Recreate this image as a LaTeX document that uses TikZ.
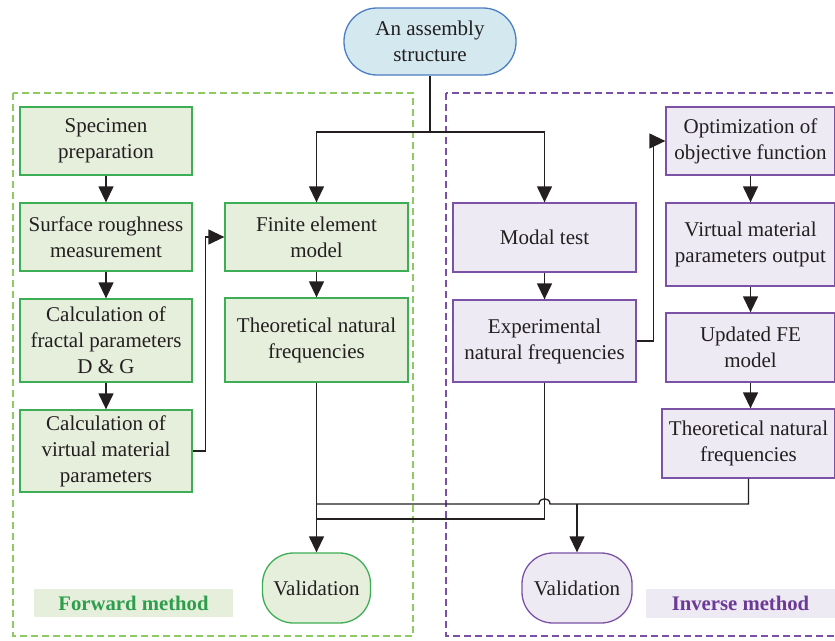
\documentclass[tikz,border=0pt]{standalone}
\usepackage{fontspec}
\setmainfont{Liberation Serif}
\usetikzlibrary{arrows.meta}
\definecolor{gfill}{HTML}{E6EEDC}
\definecolor{gline}{HTML}{3DAE55}
\definecolor{gdash}{HTML}{8DCB62}
\definecolor{gtext}{HTML}{2E9E4C}
\definecolor{pfill}{HTML}{EDEAF3}
\definecolor{pline}{HTML}{7B52A6}
\definecolor{pdash}{HTML}{7B4EA8}
\definecolor{ptext}{HTML}{6C3A96}
\definecolor{bfill}{HTML}{D4E8EF}
\definecolor{bline}{HTML}{4C7EC2}
\definecolor{txt}{HTML}{231F20}
\begin{document}
\begin{tikzpicture}[x=1pt,y=-1pt,
  base/.style={draw, line width=1.3pt, align=center, inner sep=2pt,
    font=\fontsize{21}{26}\selectfont, text=txt},
  gbox/.style={base, draw=gline, fill=gfill},
  pbox/.style={base, draw=pline, fill=pfill},
  frame/.style={line width=1.2pt, dash pattern=on 7pt off 4pt},
  conn/.style={line width=1.3pt, draw=txt},
  arr/.style={conn, -{Triangle[width=15pt,length=16pt]}},
  lab/.style={inner sep=0pt, font=\bfseries\fontsize{20.7}{24}\selectfont},
]
\clip (0,0) rectangle (835,640);
\fill[white] (0,0) rectangle (835,640);
% frames
\draw[frame, draw=gdash] (13,93) rectangle (413,636);
\draw[frame, draw=pdash] (446,93) rectangle (850,636);
% top
\node[base, draw=bline, fill=bfill, minimum width=172pt, minimum height=67pt, rounded corners=33pt] (asm) at (430,41.5) {An assembly\\structure};
% left column
\node[gbox, minimum width=172pt, minimum height=68pt] (spec) at (106,141) {Specimen\\preparation};
\node[gbox, minimum width=172pt, minimum height=68pt] (surf) at (106,237) {Surface roughness\\measurement};
\node[gbox, minimum width=172pt, minimum height=83pt] (frac) at (106,340.5) {Calculation of\\fractal parameters\\D \& G};
\node[gbox, minimum width=172pt, minimum height=82pt] (virt) at (106,451) {Calculation of\\virtual material\\parameters};
% forward middle
\node[gbox, minimum width=183pt, minimum height=68pt] (fem) at (316.5,237) {Finite element\\model};
\node[gbox, minimum width=183pt, minimum height=84pt] (theoL) at (316.5,340) {Theoretical natural\\frequencies};
% inverse middle
\node[pbox, minimum width=183pt, minimum height=69pt] (modal) at (544.5,237.5) {Modal test};
\node[pbox, minimum width=183pt, minimum height=82pt] (exp) at (544.5,341) {Experimental\\natural frequencies};
% right column
\node[pbox, minimum width=169pt, minimum height=68pt] (opt) at (750.5,141) {Optimization of\\objective function};
\node[pbox, minimum width=169pt, minimum height=83pt] (vout) at (750.5,244.5) {Virtual material\\parameters output};
\node[pbox, minimum width=169pt, minimum height=69pt] (upd) at (750.5,347.5) {Updated FE\\model};
\node[pbox, minimum width=173pt, minimum height=69pt] (theoR) at (748.5,443.5) {Theoretical natural\\frequencies};
% validations
\node[gbox, minimum width=108pt, minimum height=70pt, rounded corners=31pt] (valL) at (316.5,588) {Validation};
\node[pbox, minimum width=110pt, minimum height=70pt, rounded corners=31pt] (valR) at (577,588) {Validation};
% labels
\node[lab, fill=gfill, text=gtext, minimum width=199pt, minimum height=28pt] (fwd) at (133.5,603) {Forward method};
\node[lab, fill=pfill, text=ptext, minimum width=189pt, minimum height=29pt] (inv) at (740.5,603.5) {Inverse method};
% connectors
\coordinate (split) at (430,132);
\draw[conn] (asm.south) -- (split);
\draw[arr] (split) -| (fem.north);
\draw[arr] (split) -| (modal.north);
\draw[arr] (spec) -- (surf);
\draw[arr] (surf) -- (frac);
\draw[arr] (frac) -- (virt);
\draw[arr] (virt.east) -- ++(13,0) |- (fem.west);
\draw[arr] (fem) -- (theoL);
\draw[arr] (modal) -- (exp);
\draw[arr] (exp.east) -- ++(17,0) |- (opt.west);
\draw[arr] (opt) -- (vout);
\draw[arr] (vout) -- (upd);
\draw[arr] (upd.south) -- (upd.south |- theoR.north);
\draw[arr] (theoL.south) -- (valL.north);
\coordinate (mA) at (316.5,504);
\coordinate (mB) at (316.5,519);
\coordinate (hopR) at (550,504);
\coordinate (hopL) at (539,504);
\coordinate (brR) at (577,504);
\draw[conn] (exp.south) |- (mB);
\draw[conn] (theoR.south) |- (hopR) .. controls (550,497) and (539,497) .. (hopL) -- (mA);
\draw[arr] (brR) -- (valR.north);
\end{tikzpicture}
\end{document}
